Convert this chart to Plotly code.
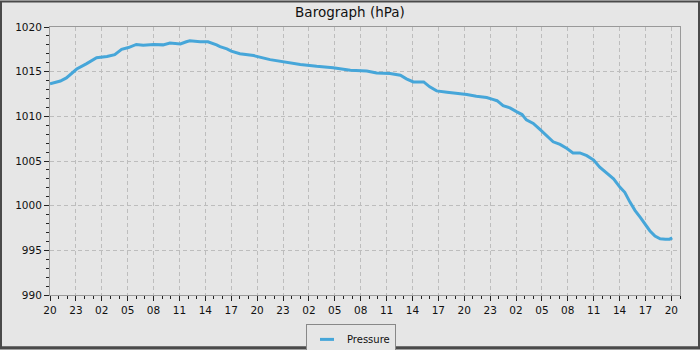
import pandas as pd
import plotly.graph_objects as go

# hours since start (20:00 on day 0) and pressure readings (hPa)
start_time = "2024-03-01 20:00"
hours = [0, 1.2, 1.9, 3.1, 4.25, 5.4, 6.6, 7.5, 8.3, 9.1, 10.0, 10.8, 12.0, 13.1, 13.9,
         15.1, 15.8, 16.2, 17.4, 18.3, 19.3, 19.7, 20.5, 21.0, 22.0, 23.0, 23.6, 25.5,
         27.4, 29.0, 30.9, 32.8, 34.8, 36.7, 37.85, 39.4, 40.6, 41.3, 42.1, 43.3, 44.0,
         44.8, 46.0, 47.1, 48.3, 49.4, 50.6, 51.3, 51.8, 52.5, 53.3, 54.1, 54.7, 55.2,
         56.0, 56.8, 57.5, 58.3, 59.1, 59.9, 60.6, 61.4, 62.2, 63.0, 63.7, 64.5, 65.3,
         66.05, 66.6, 67.2, 67.8, 68.4, 68.9, 69.5, 70.1, 70.7, 71.3, 71.8, 72.1]
pressure = [1013.65, 1013.95, 1014.3, 1015.3, 1015.9, 1016.55, 1016.7, 1016.9, 1017.5,
            1017.7, 1018.05, 1017.95, 1018.05, 1018.0, 1018.2, 1018.1, 1018.35, 1018.45,
            1018.35, 1018.35, 1018.0, 1017.8, 1017.55, 1017.3, 1017.0, 1016.9, 1016.8,
            1016.35, 1016.05, 1015.8, 1015.6, 1015.45, 1015.15, 1015.07, 1014.85, 1014.8,
            1014.6, 1014.2, 1013.85, 1013.85, 1013.3, 1012.85, 1012.7, 1012.6, 1012.45,
            1012.25, 1012.1, 1011.9, 1011.75, 1011.2, 1010.95, 1010.5, 1010.2, 1009.6,
            1009.2, 1008.5, 1007.9, 1007.15, 1006.85, 1006.4, 1005.9, 1005.9, 1005.6,
            1005.1, 1004.3, 1003.7, 1003.0, 1002.05, 1001.5, 1000.4, 999.45, 998.7,
            997.95, 997.2, 996.6, 996.3, 996.25, 996.25, 996.4]
series_name = "Pressure"
title_text = "Barograph (hPa)"
x_span_hours = 73
y_range = [990, 1020]

t0 = pd.Timestamp(start_time)
times = [t0 + pd.Timedelta(hours=h) for h in hours]
x_end = t0 + pd.Timedelta(hours=x_span_hours)

BG = "#e6e6e6"
BLUE = "#46a6d9"
FONT = "DejaVu Sans"

fig = go.Figure()
fig.add_trace(go.Scatter(x=times, y=pressure, mode="lines", name=series_name,
                         line=dict(color=BLUE, width=3), showlegend=False))
fig.add_trace(go.Scatter(x=[None], y=[None], mode="markers", name=series_name,
                         marker=dict(symbol="line-ew-open", size=10, color=BLUE,
                                     line=dict(color=BLUE, width=3)),
                         showlegend=True))

L, R, T, B = 50, 20, 26.5, 54.5
W, H = 700, 350
pw, ph = W - L - R, H - T - B

fig.update_layout(
    width=W, height=H,
    margin=dict(l=L, r=R, t=T, b=B, autoexpand=False),
    paper_bgcolor=BG, plot_bgcolor=BG,
    font=dict(family=FONT, size=11, color="#111"),
    title=dict(text=title_text, x=0.5, xref="container", xanchor="center",
               y=1 - 12 / H, yref="container", yanchor="middle",
               font=dict(family=FONT, size=13.5, color="#111")),
    showlegend=True,
    legend=dict(orientation="h", x=(351 - L) / pw, xanchor="center",
                y=-(324.5 - (H - B)) / ph, yanchor="top",
                bgcolor=BG, bordercolor="#888", borderwidth=1,
                font=dict(family=FONT, size=10, color="#111"),
                itemwidth=30, tracegroupgap=0),
    xaxis=dict(range=[t0, x_end], type="date", tickformat="%H",
               dtick=3 * 3600000, tick0=t0,
               showline=True, linecolor="#999", linewidth=1, mirror=True,
               ticks="outside", ticklen=5, tickcolor="#222", tickwidth=1,
               showgrid=True, gridcolor="#bdbdbd", griddash="4px,3px", gridwidth=1,
               zeroline=False, tickfont=dict(size=10.5), automargin=False,
               minor=dict(dtick=3600000, ticks="outside", ticklen=3,
                          tickcolor="#222", showgrid=False)),
    yaxis=dict(range=y_range, dtick=5, tick0=990,
               showline=True, linecolor="#999", linewidth=1, mirror=True,
               ticks="outside", ticklen=5, tickcolor="#222", tickwidth=1,
               showgrid=True, gridcolor="#bdbdbd", griddash="4px,3px", gridwidth=1,
               zeroline=False, tickfont=dict(size=10.5), automargin=False,
               minor=dict(dtick=1, ticks="outside", ticklen=3,
                          tickcolor="#222", showgrid=False)),
)

# outer frame of the picture
fig.add_shape(type="rect", xref="paper", yref="paper",
              x0=(1 - L) / pw, x1=(W - 1 - L) / pw,
              y0=-(B - 1) / ph, y1=1 + (T - 1) / ph,
              line=dict(color="#4a4a4a", width=2), fillcolor="rgba(0,0,0,0)",
              layer="above")
fig.add_shape(type="line", xref="paper", yref="paper",
              x0=-L / pw, x1=(W - L) / pw,
              y0=-(B - 1.5) / ph, y1=-(B - 1.5) / ph,
              line=dict(color="#4a4a4a", width=3), layer="above")

fig.write_html("out.html")
